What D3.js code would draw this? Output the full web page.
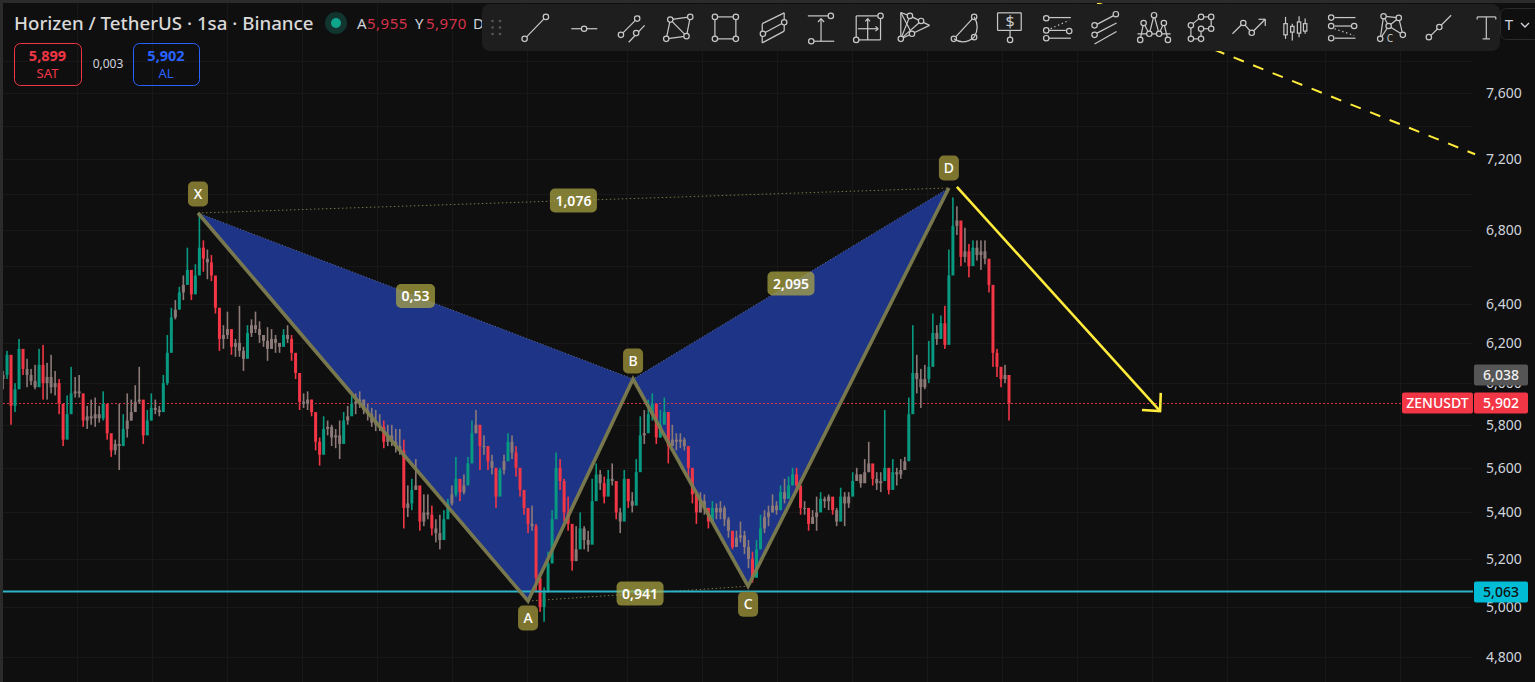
<!DOCTYPE html>
<html><head><meta charset="utf-8">
<script src="https://cdn.jsdelivr.net/npm/d3@7"></script>
<style>html,body{margin:0;padding:0;background:#0f0f0f;overflow:hidden}svg{display:block}text{font-family:"Noto Sans",sans-serif}</style>
</head><body>
<script>
const highs=[6.06,6.16,5.99,6.00,6.22,6.16,6.12,6.07,6.09,6.17,
6.19,6.10,6.14,6.06,6.02,5.82,5.94,6.08,6.03,6.04,
5.90,5.89,5.92,5.93,5.89,5.96,5.89,5.74,5.73,5.90,
5.85,5.95,5.92,5.99,6.08,5.90,5.87,5.95,5.92,5.89,
6.04,6.24,6.38,6.42,6.49,6.55,6.70,6.55,6.61,6.89,
6.74,6.69,6.66,6.51,6.32,6.29,6.36,6.27,6.22,6.39,
6.18,6.29,6.32,6.36,6.31,6.23,6.28,6.27,6.24,6.20,
6.27,6.29,6.24,6.12,5.99,5.95,5.96,5.92,5.80,5.74,
5.84,5.82,5.80,5.78,5.82,5.86,5.89,5.94,5.95,5.96,
5.92,5.90,5.88,5.87,5.85,5.82,5.80,5.80,5.78,5.78,
5.73,5.52,5.55,5.64,5.50,5.48,5.48,5.43,5.37,5.39,
5.41,5.46,5.52,5.65,5.51,5.57,5.65,5.82,5.87,5.78,
5.75,5.66,5.66,5.60,5.60,5.66,5.76,5.75,5.70,5.59,
5.50,5.41,5.43,5.35,5.06,5.08,5.23,5.41,5.67,5.64,
5.55,5.47,5.28,5.34,5.40,5.34,5.32,5.55,5.62,5.59,
5.56,5.59,5.62,5.45,5.42,5.59,5.53,5.49,5.64,5.84,
5.87,5.92,5.95,5.82,5.87,5.93,5.86,5.80,5.76,5.76,
5.74,5.68,5.56,5.50,5.49,5.48,5.41,5.45,5.44,5.45,
5.43,5.38,5.29,5.32,5.36,5.32,5.28,5.23,5.28,5.39,
5.41,5.43,5.48,5.45,5.52,5.55,5.56,5.60,5.60,5.50,
5.45,5.42,5.41,5.47,5.49,5.47,5.48,5.45,5.42,5.51,
5.49,5.49,5.58,5.60,5.57,5.64,5.72,5.60,5.58,5.58,
5.87,5.57,5.64,5.60,5.64,5.65,5.93,6.29,6.14,6.07,
6.09,6.21,6.35,6.29,6.34,6.39,6.69,6.98,6.93,6.78,
6.81,6.72,6.74,6.74,6.74,6.74,6.57,6.47,6.17,6.08,6.09,5.97];
const lows=[5.97,6.02,5.80,5.86,6.03,6.04,5.98,5.99,5.97,5.99,
5.92,5.92,5.95,5.94,5.85,5.70,5.78,5.89,5.93,5.93,
5.79,5.78,5.80,5.79,5.81,5.82,5.73,5.65,5.66,5.59,
5.70,5.74,5.82,5.87,5.90,5.71,5.78,5.82,5.85,5.84,
5.89,5.99,6.25,6.32,6.40,6.42,6.51,6.42,6.47,6.58,
6.57,6.53,6.52,6.35,6.16,6.17,6.22,6.14,6.13,6.13,
6.06,6.19,6.23,6.25,6.20,6.18,6.11,6.17,6.15,6.15,
6.19,6.20,6.11,6.02,5.87,5.88,5.87,5.84,5.68,5.61,
5.73,5.75,5.70,5.69,5.64,5.74,5.80,5.86,5.85,5.88,
5.85,5.82,5.79,5.77,5.77,5.69,5.70,5.70,5.67,5.66,
5.33,5.38,5.41,5.50,5.32,5.34,5.37,5.30,5.27,5.24,
5.32,5.40,5.43,5.47,5.45,5.48,5.55,5.70,5.76,5.59,
5.66,5.59,5.57,5.42,5.56,5.57,5.65,5.64,5.56,5.47,
5.39,5.31,5.32,5.06,4.98,4.94,5.06,5.29,5.52,5.50,
5.36,5.32,5.15,5.20,5.25,5.24,5.23,5.33,5.52,5.50,
5.44,5.50,5.52,5.37,5.31,5.47,5.42,5.40,5.45,5.64,
5.71,5.80,5.82,5.71,5.74,5.81,5.62,5.70,5.68,5.69,
5.68,5.55,5.44,5.35,5.40,5.39,5.33,5.38,5.37,5.37,
5.34,5.29,5.24,5.25,5.27,5.22,5.16,5.10,5.21,5.27,
5.31,5.34,5.40,5.39,5.43,5.44,5.49,5.53,5.49,5.39,
5.39,5.32,5.35,5.32,5.41,5.42,5.41,5.39,5.34,5.40,
5.34,5.42,5.49,5.55,5.51,5.55,5.58,5.52,5.50,5.49,
5.55,5.48,5.51,5.52,5.55,5.59,5.69,5.93,5.95,5.88,
5.97,6.00,6.13,6.19,6.22,6.17,6.30,6.69,6.77,6.60,
6.62,6.54,6.62,6.63,6.58,6.61,6.46,6.08,6.03,5.98,6.00,5.82];
const closes=[6.04,6.14,5.89,5.97,6.17,6.07,6.04,6.01,5.98,6.09,
6.00,6.03,5.98,6.00,5.90,5.73,5.85,5.95,5.96,5.95,
5.82,5.84,5.83,5.85,5.83,5.90,5.76,5.68,5.71,5.70,
5.78,5.82,5.86,5.91,5.92,5.75,5.82,5.88,5.87,5.86,
6.00,6.15,6.33,6.37,6.46,6.50,6.58,6.45,6.55,6.70,
6.64,6.62,6.55,6.38,6.22,6.24,6.27,6.18,6.20,6.16,
6.12,6.25,6.29,6.27,6.24,6.21,6.17,6.22,6.20,6.18,
6.24,6.22,6.15,6.05,5.91,5.90,5.92,5.86,5.72,5.66,
5.78,5.79,5.74,5.75,5.71,5.82,5.84,5.90,5.91,5.92,
5.87,5.85,5.81,5.80,5.79,5.72,5.75,5.72,5.70,5.68,
5.42,5.44,5.50,5.52,5.36,5.40,5.39,5.33,5.31,5.28,
5.37,5.44,5.48,5.55,5.49,5.52,5.62,5.76,5.80,5.70,
5.70,5.63,5.60,5.47,5.59,5.63,5.72,5.67,5.60,5.50,
5.42,5.35,5.34,5.12,5.00,5.06,5.18,5.37,5.60,5.54,
5.40,5.35,5.19,5.24,5.33,5.28,5.26,5.45,5.57,5.53,
5.47,5.55,5.54,5.40,5.36,5.55,5.45,5.43,5.58,5.75,
5.76,5.85,5.90,5.74,5.80,5.86,5.70,5.73,5.72,5.73,
5.70,5.60,5.48,5.40,5.45,5.42,5.36,5.42,5.40,5.42,
5.37,5.32,5.25,5.29,5.30,5.25,5.20,5.12,5.24,5.33,
5.38,5.40,5.43,5.41,5.49,5.46,5.52,5.57,5.52,5.42,
5.42,5.35,5.38,5.40,5.46,5.45,5.47,5.41,5.36,5.47,
5.44,5.47,5.54,5.57,5.53,5.58,5.62,5.55,5.53,5.54,
5.60,5.50,5.58,5.57,5.59,5.63,5.85,6.05,6.02,5.98,
6.02,6.08,6.25,6.22,6.30,6.19,6.55,6.82,6.85,6.65,
6.68,6.60,6.70,6.66,6.68,6.64,6.50,6.15,6.08,6.02,6.04,5.90];
const priceTicks=[7.6,7.2,6.8,6.4,6.2,6.0,5.8,5.6,5.4,5.2,5.0,4.8];
const gridPrices=[7.8,7.6,7.4,7.2,7.0,6.8,6.6,6.4,6.2,6.0,5.8,5.6,5.4,5.2,5.0,4.8];
const gridBars=[18.46,37.18,55.89,74.6,93.3,112,130.7,155.7,174.4,193.1,211.8,230.5,249.3,268,286.7,305.4,329.8,348.6];
const patternNames=["X","A","B","C","D"];
const patternBars=[48.65,131,157.2,185.9,236];
const patternPrices=[6.892,5.024,6.02,5.085,7.034];
const ratioLabels=[["X","D","1,076"],["X","B","0,53"],["B","D","2,095"],["A","C","0,941"]];
const arrowBars=[238,288.7];const arrowPrices=[7.04,5.865];
const dashBars=[273,367.3];const dashPrices=[8.18,7.23];
const lastPrice=5.902,markPrice=6.038,levelPrice=5.063;

const W=1535,H=682;
const svg=d3.select("body").append("svg").attr("width",W).attr("height",H);
svg.append("rect").attr("width",W).attr("height",H).attr("fill","#0f0f0f");
const x=d3.scaleLinear().domain([0,closes.length-1]).range([3,1009]);
const y=d3.scaleLog().domain([7.6,4.8]).range([93,657]);
const comma=v=>d3.format(".3f")(v).replace(".",",");

const grid=svg.append("g").attr("stroke","#181818").attr("stroke-width",1);
grid.selectAll("line.h").data(gridPrices).join("line").attr("class","h").attr("x1",3).attr("x2",1473)
 .attr("y1",d=>Math.round(y(d))+.5).attr("y2",d=>Math.round(y(d))+.5);
grid.selectAll("line.v").data(gridBars).join("line").attr("class","v").attr("y1",3).attr("y2",H)
 .attr("x1",d=>Math.round(x(d))+.5).attr("x2",d=>Math.round(x(d))+.5);

// pattern fill
const P=Object.fromEntries(patternNames.map((n,i)=>[n,[x(patternBars[i]),y(patternPrices[i])]]));
const tri=d3.line();
svg.append("path").attr("d",tri([P.X,P.A,P.B])+"Z").attr("fill","#1e3486");
svg.append("path").attr("d",tri([P.B,P.C,P.D])+"Z").attr("fill","#1e3486");
svg.append("path").attr("d",tri([P.X,P.B,P.D])).attr("fill","none").attr("stroke","#5f6f9f").attr("stroke-width",1).attr("stroke-dasharray","1 2");
svg.append("path").attr("d",tri([P.X,P.D])).attr("fill","none").attr("stroke","#7a7545").attr("stroke-width",1).attr("stroke-dasharray","1.5 2.5");
svg.append("path").attr("d",tri([P.A,P.C])).attr("fill","none").attr("stroke","#7a7545").attr("stroke-width",1).attr("stroke-dasharray","1.5 2.5");

// last price line
const lastY=Math.round(y(lastPrice))+.5;
svg.append("line").attr("x1",3).attr("x2",1402).attr("y1",lastY).attr("y2",lastY)
 .attr("stroke","#f23645").attr("stroke-opacity",.9).attr("stroke-dasharray","2 2").attr("shape-rendering","crispEdges");

// candles
const bars=closes.map((c,i)=>({i,c,o:i?closes[i-1]:6.02,h:highs[i],l:lows[i]}));
const col=d=>Math.abs(d.c-d.o)<0.05?"#8c7a78":d.c>d.o?"#089981":"#f23645";
const cg=svg.append("g");
cg.selectAll("rect.w").data(bars).join("rect").attr("class","w")
 .attr("x",d=>x(d.i)-.8).attr("width",1.6).attr("y",d=>y(d.h)).attr("height",d=>y(d.l)-y(d.h)).attr("fill",col);
cg.selectAll("rect.b").data(bars).join("rect").attr("class","b")
 .attr("x",d=>x(d.i)-1.5).attr("width",3).attr("y",d=>y(Math.max(d.o,d.c))).attr("height",d=>Math.max(1,Math.abs(y(d.o)-y(d.c)))).attr("fill",col);

// level line
svg.append("line").attr("x1",3).attr("x2",1473).attr("y1",y(levelPrice)).attr("y2",y(levelPrice)).attr("stroke","#2cb4c6").attr("stroke-width",2);

// pattern legs
svg.append("path").attr("d",tri(patternNames.map(n=>P[n]))).attr("fill","none").attr("stroke","#7d7c4f").attr("stroke-width",3.6).attr("stroke-opacity",.95).attr("stroke-linejoin","miter");

// yellow lines
const defs=svg.append("defs");
defs.append("marker").attr("id","ah").attr("viewBox","-16 -15 18 30").attr("refX",0).attr("refY",0).attr("markerWidth",18).attr("markerHeight",30).attr("markerUnits","userSpaceOnUse").attr("orient","auto")
 .append("path").attr("d","M-13,-12.7L0,0L-13,12.7").attr("fill","none").attr("stroke","#ffeb3b").attr("stroke-width",2.6);
svg.append("line").attr("x1",x(arrowBars[0])).attr("y1",y(arrowPrices[0])).attr("x2",x(arrowBars[1])).attr("y2",y(arrowPrices[1]))
 .attr("stroke","#ffeb3b").attr("stroke-width",2.6).attr("marker-end","url(#ah)");
svg.append("line").attr("x1",x(dashBars[0])).attr("y1",y(dashPrices[0])).attr("x2",x(dashBars[1])).attr("y2",y(dashPrices[1]))
 .attr("stroke","#ffeb3b").attr("stroke-width",2).attr("stroke-dasharray","11 10");

// ratio labels
const lab=svg.append("g");
ratioLabels.forEach(([a,b,t])=>{
 const cx=(P[a][0]+P[b][0])/2+(a==="A"?2:0),cy=(P[a][1]+P[b][1])/2;
 const w=t.length*8+7;
 lab.append("rect").attr("x",cx-w/2).attr("y",cy-12).attr("width",w).attr("height",24).attr("rx",5).attr("fill","#b2ab45").attr("fill-opacity",.7);
 lab.append("text").attr("x",cx).attr("y",cy+5).attr("text-anchor","middle").attr("fill","#fff").attr("font-size",14).attr("font-weight",600).text(t);
});
const offs={X:-19,A:17,B:-18,C:18,D:-20};
patternNames.forEach(n=>{
 const cx=P[n][0],cy=P[n][1]+offs[n];
 lab.append("rect").attr("x",cx-10).attr("y",cy-12.5).attr("width",20).attr("height",25).attr("rx",5).attr("fill","#7d7430");
 lab.append("text").attr("x",cx).attr("y",cy+5).attr("text-anchor","middle").attr("fill","#fff").attr("font-size",14).attr("font-weight",500).text(n);
});

// price axis
const ax=svg.append("g");
ax.selectAll("text").data(priceTicks).join("text").attr("x",1504).attr("y",d=>y(d)+5).attr("text-anchor","middle")
 .attr("font-size",14).attr("fill","#d1d4dc").text(comma);
function tag(x0,w,v,bg,t,fg){const c=Math.round(y(v));
 svg.append("rect").attr("x",x0).attr("y",c-10.5).attr("width",w).attr("height",21).attr("rx",2).attr("fill",bg);
 svg.append("text").attr("x",x0+w/2).attr("y",c+5).attr("text-anchor","middle").attr("font-size",14).attr("font-weight",500).attr("fill",fg).text(t);}
tag(1474,54,markPrice,"#555555",comma(markPrice),"#f0f0f0");
tag(1474,54,lastPrice,"#f23645",comma(lastPrice),"#fff");
tag(1402,71,lastPrice,"#f23645","ZENUSDT","#fff");
tag(1474,54,levelPrice,"#00bcd4",comma(levelPrice),"#111");

// frame bands
svg.append("rect").attr("width",W).attr("height",3).attr("fill","#2b2b2b");
svg.append("rect").attr("width",3).attr("height",H).attr("fill","#2b2b2b");

// header
svg.append("text").attr("x",14).attr("y",30).attr("font-size",18.7).attr("font-weight",500).attr("fill","#d9d9d9").text("Horizen / TetherUS · 1sa · Binance");
svg.append("circle").attr("cx",336).attr("cy",23).attr("r",11).attr("fill","#12352f");
svg.append("circle").attr("cx",336).attr("cy",23).attr("r",5).attr("fill","#0fa58c");
const ohlc=svg.append("text").attr("y",29).attr("font-size",15).attr("letter-spacing",.5);
[["A","#d1d4dc",357],["5,955","#d8324a",367],["Y","#d1d4dc",415],["5,970","#d8324a",426],["D","#d1d4dc",473]].forEach(([t,c,px])=>ohlc.append("tspan").attr("x",px).attr("fill",c).text(t));
function box(x0,w,c,a,b){
 svg.append("rect").attr("x",x0+.5).attr("y",43.5).attr("width",w).attr("height",42).attr("rx",6).attr("fill","none").attr("stroke",c);
 svg.append("text").attr("x",x0+w/2).attr("y",61).attr("text-anchor","middle").attr("font-size",14.5).attr("font-weight",700).attr("fill",c).text(a);
 svg.append("text").attr("x",x0+w/2).attr("y",78).attr("text-anchor","middle").attr("font-size",13).attr("fill",c).text(b);}
box(14,67,"#f23645","5,899","SAT");
box(133,66,"#2962ff","5,902","AL");
svg.append("text").attr("x",108).attr("y",68).attr("text-anchor","middle").attr("font-size",12).attr("fill","#d1d4dc").text("0,003");

// toolbar
svg.append("rect").attr("x",482).attr("y",4).attr("width",1018).attr("height",47).attr("rx",8).attr("fill","#1e1e1e");
svg.append("rect").attr("x",1500.5).attr("y",8.5).attr("width",40).attr("height",31).attr("rx",6).attr("fill","none").attr("stroke","#2a2a2a");
svg.append("text").attr("x",1509).attr("y",30).attr("text-anchor","middle").attr("font-size",15).attr("fill","#d1d4dc").text("T");
svg.append("path").attr("d","M1521,23l4,4l4,-4").attr("fill","none").attr("stroke","#d1d4dc").attr("stroke-width",1.4);
[492.5,500].forEach(a=>[21,27.5,34].forEach(b=>svg.append("circle").attr("cx",a).attr("cy",b).attr("r",1.3).attr("fill","#555")));

const ICON="#c8c8c8",S=.338;
const icons2={lines:[[132,115,195,50],[270,85,347,85],[417,103,473,47],[440,125,487,75],
[563,58,622,50],[622,50,611,107],[611,107,551,115],[551,115,563,58],[563,58,611,107],
[695,50,757,50],[757,50,757,115],[757,115,695,115],[695,115,695,50],
[835,70,900,38],[900,38,900,92],[900,92,835,127],[835,127,835,70],[837,100,900,66],
[970,47,1030,47],[985,122,1048,122],[1009,122,1009,55],[1000,65,1009,55],[1018,65,1009,55],
[1113,47,1185,47],[1185,47,1185,118],[1185,118,1113,118],[1113,118,1113,47],[1118,85,1178,85],[1147,118,1147,55],[1140,63,1147,55],[1154,63,1147,55],[1170,78,1178,85],[1170,92,1178,85],
[1245,37,1245,115],[1245,115,1272,47],[1245,37,1278,100],[1272,47,1330,75],[1278,100,1330,75],[1245,115,1305,62],[1245,37,1272,47],[1245,115,1278,100],
[1402,115,1462,50]],
circles:[[132,115],[195,50],[308,85],[417,103],[465,55],[462,98],[563,58],[622,50],[611,107],[551,115],[695,50],[757,50],[757,115],[695,115],[837,100],[900,66],[1038,47],[980,122],[1113,118],[1185,47],[1272,47],[1305,62],[1278,100],[1245,115],[1402,115],[1462,50],[1462,110]]};
const icons3={lines:[[-22,38,48,38],[48,38,48,90],[48,90,-22,90],[-22,90,-22,38],[15,90,15,110],
[130,52,195,52],[130,90,180,90],[130,113,195,113],
[272,72,320,47],[272,98,330,68],[265,130,330,93],
[392,100,490,100],[400,118,410,68],[410,68,427,100],[427,100,441,45],[441,45,456,100],[456,100,470,68],[470,68,482,118],
[550,115,550,75],[550,75,580,50],[580,50,610,50],[610,50,610,85],[610,85,580,85],[580,85,580,115],[580,115,550,115],
[673,100,705,68],[705,68,730,97],[730,97,770,57],[750,57,770,57],[770,57,770,77],
[830,50,830,115],[850,70,850,120],[870,48,870,110],[888,55,888,100],
[975,52,1037,52],[975,77,1025,77],[975,113,1037,113],
[1120,48,1135,77],[1120,48,1110,115],[1110,115,1135,77],[1135,77,1165,53],[1165,53,1177,103],[1135,77,1177,103],[1120,48,1165,53],
[1250,115,1320,45],
[1397,50,1452,50],[1424,50,1424,115],[1413,115,1435,115],[1397,50,1397,58],[1452,50,1452,58]],
circles:[[15,118],[122,54],[122,90],[190,92],[122,113],[265,75],[328,42],[265,103],[400,118],[410,68],[427,100],[441,45],[456,100],[470,68],[482,118],[550,75],[580,50],[610,50],[610,85],[580,85],[580,115],[550,115],[705,68],[730,97],[965,52],[965,77],[1033,77],[965,113],[1120,48],[1165,53],[1135,77],[1110,115],[1177,103],[1254,110],[1285,80]],
rects:[[825,70,10,33],[845,78,10,17],[865,65,10,33],[883,70,10,22]],
dots:[[135,85,190,60],[975,85,1033,105]]};
function drawIcons(ox,spec){
 const g=svg.append("g").attr("transform",`translate(${ox},0) scale(${S})`).attr("stroke",ICON).attr("stroke-width",3.6).attr("fill","none");
 g.selectAll("line.l").data(spec.lines).join("line").attr("class","l").attr("x1",d=>d[0]).attr("y1",d=>d[1]).attr("x2",d=>d[2]).attr("y2",d=>d[3]);
 if(spec.rects)g.selectAll("rect").data(spec.rects).join("rect").attr("x",d=>d[0]).attr("y",d=>d[1]).attr("width",d=>d[2]).attr("height",d=>d[3]).attr("fill","#1e1e1e");
 if(spec.dots)g.selectAll("line.d").data(spec.dots).join("line").attr("class","d").attr("x1",d=>d[0]).attr("y1",d=>d[1]).attr("x2",d=>d[2]).attr("y2",d=>d[3]).attr("stroke-dasharray","4 8");
 g.selectAll("circle").data(spec.circles).join("circle").attr("cx",d=>d[0]).attr("cy",d=>d[1]).attr("r",8).attr("fill","#1e1e1e");
 return g;
}
const g2=drawIcons(480,icons2);
g2.append("path").attr("d","M1462,50Q1480,80 1462,110M1402,115Q1430,135 1462,110");
const g3=drawIcons(1005,icons3);
svg.append("text").attr("x",1010).attr("y",27).attr("text-anchor","middle").attr("font-size",16).attr("fill",ICON).text("$");
svg.append("text").attr("x",1390).attr("y",42).attr("text-anchor","middle").attr("font-size",10).attr("fill",ICON).text("C");
</script>
</body></html>
